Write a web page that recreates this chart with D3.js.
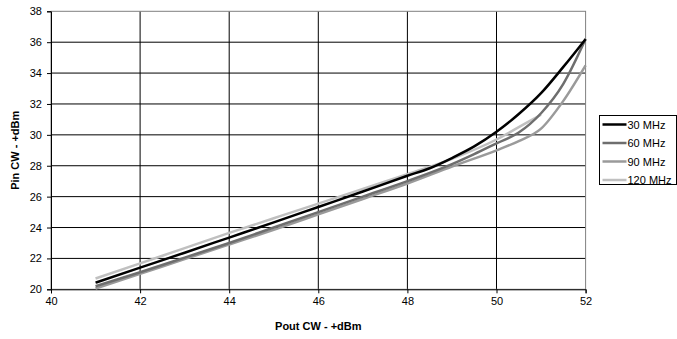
<!DOCTYPE html>
<html>
<head>
<meta charset="utf-8">
<script src="https://cdn.jsdelivr.net/npm/d3@7"></script>
<style>
  body { margin: 0; background: #fff; }
  text { font-family: "Liberation Sans", Arial, sans-serif; }
</style>
</head>
<body>
<svg id="chart" width="677" height="339"></svg>
<script>
// series names
var seriesNames = ["30 MHz", "60 MHz", "90 MHz", "120 MHz"];
var seriesColors = ["#000000", "#6e6e6e", "#9a9a9a", "#c0c0c0"];

// Pout values (x) and Pin values (y) per series
var pout30 = [41, 42, 43, 44, 45, 46, 47, 48, 48.5, 49, 49.5, 50, 50.5, 51, 51.5, 52];
var pin30 = [20.43, 21.4, 22.37, 23.35, 24.33, 25.33, 26.33, 27.35, 27.84, 28.5, 29.25, 30.2, 31.35, 32.7, 34.4, 36.2];

var pout60 = [41, 42, 43, 44, 45, 46, 47, 48, 49, 49.5, 50, 50.5, 51, 51.5, 52];
var pin60 = [20.2, 21.1, 22.05, 23.0, 24.0, 25.0, 26.0, 27.0, 28.1, 28.75, 29.45, 30.15, 31.4, 33.3, 36.2];

var pout90 = [41, 42, 43, 44, 45, 46, 47, 48, 49, 50, 50.5, 51, 51.5, 52];
var pin90 = [20.05, 21.0, 21.95, 22.9, 23.85, 24.85, 25.85, 26.85, 27.95, 29.0, 29.6, 30.4, 32.2, 34.5];

var pout120 = [41, 42, 43, 44, 45, 46, 47, 48, 49, 50, 50.5, 51];
var pin120 = [20.7, 21.68, 22.67, 23.65, 24.6, 25.55, 26.5, 27.45, 28.45, 29.7, 30.5, 31.3];

var xTicks = [40, 42, 44, 46, 48, 50, 52];
var yTicks = [20, 22, 24, 26, 28, 30, 32, 34, 36, 38];

var svg = d3.select("#chart");

var x = d3.scaleLinear().domain([40, 52]).range([51, 585.6]);
var y = d3.scaleLinear().domain([20, 38]).range([289.3, 11.3]);

// grid
svg.append("g").selectAll("line")
    .data(yTicks.slice(1, -1))
    .enter().append("line")
    .attr("x1", x(40)).attr("x2", x(52))
    .attr("y1", function(d) {return y(d)})
    .attr("y2", function(d) {return y(d)})
    .attr("stroke", "#000").attr("stroke-width", 1);

svg.append("g").selectAll("line")
    .data(xTicks.slice(1, -1))
    .enter().append("line")
    .attr("y1", y(20)).attr("y2", y(38))
    .attr("x1", function(d) {return x(d)})
    .attr("x2", function(d) {return x(d)})
    .attr("stroke", "#000").attr("stroke-width", 1);

// plot border
svg.append("rect")
    .attr("x", x(40)).attr("y", y(38))
    .attr("width", x(52) - x(40)).attr("height", y(20) - y(38))
    .attr("fill", "none").attr("stroke", "#808080").attr("stroke-width", 1);

// axes
var xAxis = svg.append("g")
    .attr("transform", "translate(0," + y(20) + ")")
    .call(d3.axisBottom(x).tickValues(xTicks).tickSize(4).tickPadding(4));
var yAxis = svg.append("g")
    .attr("transform", "translate(" + x(40) + ",0)")
    .call(d3.axisLeft(y).tickValues(yTicks).tickSize(4).tickPadding(5));

[xAxis, yAxis].forEach(function(a) {
  a.select(".domain").attr("stroke", "#000");
  a.selectAll(".tick line").attr("stroke", "#000");
  a.selectAll(".tick text")
      .attr("fill", "#000")
      .style("font-family", "'Liberation Sans', Arial, sans-serif")
      .style("font-size", "11px");
});

// lines
var allSeries = [
  {x: pout30, y: pin30},
  {x: pout60, y: pin60},
  {x: pout90, y: pin90},
  {x: pout120, y: pin120}
];

var line = d3.line()
    .x(function(d) {return x(d[0])})
    .y(function(d) {return y(d[1])})
    .curve(d3.curveMonotoneX);

// draw lightest first so black stays on top
for (var i = allSeries.length - 1; i >= 0; i--) {
  var pts = allSeries[i].x.map(function(v, j) {return [v, allSeries[i].y[j]]});
  svg.append("path")
      .datum(pts)
      .attr("d", line)
      .attr("fill", "none")
      .attr("stroke", seriesColors[i])
      .attr("stroke-width", 2.5);
}

// axis titles
svg.append("text")
    .attr("x", (x(40) + x(52)) / 2)
    .attr("y", 330)
    .attr("text-anchor", "middle")
    .style("font-size", "11px")
    .style("font-weight", "bold")
    .text("Pout CW - +dBm");

svg.append("text")
    .attr("transform", "translate(19," + ((y(20) + y(38)) / 2) + ") rotate(-90)")
    .attr("text-anchor", "middle")
    .style("font-size", "11px")
    .style("font-weight", "bold")
    .text("Pin CW - +dBm");

// legend
var legend = svg.append("g").attr("transform", "translate(599.5,115.5)");
legend.append("rect")
    .attr("width", 77).attr("height", 69)
    .attr("fill", "#fff").attr("stroke", "#000").attr("stroke-width", 1);

var items = legend.selectAll("g.item")
    .data(seriesNames)
    .enter().append("g")
    .attr("transform", function(d, i) {return "translate(0," + (9 + i * 18.5) + ")"});
items.append("line")
    .attr("x1", 3).attr("x2", 27)
    .attr("stroke", function(d, i) {return seriesColors[i]})
    .attr("stroke-width", 2.5);
items.append("text")
    .attr("x", 28).attr("y", 4)
    .style("font-size", "11px")
    .text(function(d) {return d});
</script>
</body>
</html>
